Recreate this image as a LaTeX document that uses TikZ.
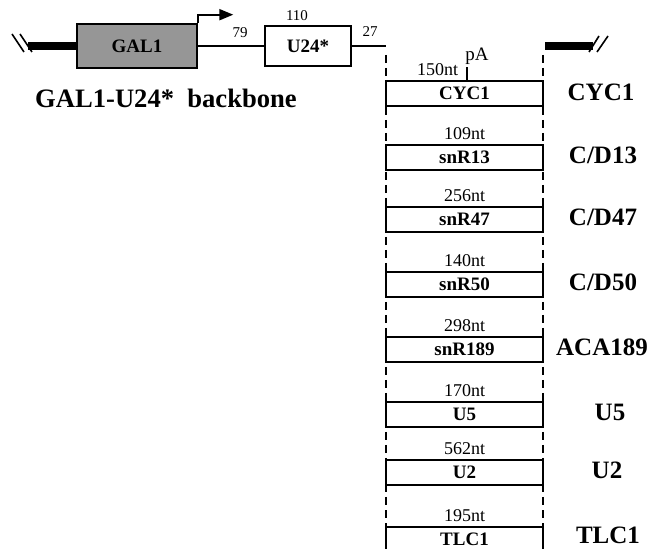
\documentclass[tikz,border=0pt]{standalone}
\usepackage{fontspec}
\setmainfont{Liberation Serif}
\usetikzlibrary{arrows.meta, positioning}
\definecolor{galgray}{RGB}{150,150,150}

\tikzset{
  genebox/.style={draw, line width=1.3pt, fill=white, minimum width=78.5pt, minimum height=12.5pt, inner sep=0pt, font=\fontsize{9.5}{11}\selectfont\bfseries},
  ntlabel/.style={inner sep=1pt, font=\fontsize{9}{10}\selectfont},
  sitelabel/.style={font=\fontsize{12.5}{14}\selectfont\bfseries},
  numlabel/.style={font=\fontsize{7.5}{9}\selectfont},
  dnabar/.style={line width=4pt},
  cut/.style={line width=0.8pt},
}

\begin{document}
\begin{tikzpicture}[x=0.5pt, y=-0.5pt]
  \useasboundingbox (0,0) rectangle (647,549);

  % backbone
  \node[draw, line width=1.3pt, fill=galgray, minimum width=60pt, minimum height=22pt, font=\fontsize{9.5}{11}\selectfont\bfseries] (gal) at (137,46) {GAL1};
  \node[draw, line width=1.3pt, minimum width=43pt, minimum height=20pt, font=\fontsize{9.5}{11}\selectfont\bfseries] (u24) at (308,46) {U24*};
  \coordinate (gap) at (386,46);
  \draw[line width=1pt] (gal) -- (u24);
  \draw[line width=1pt] (u24) -- (gap);
  \draw[line width=1pt, -{Triangle[length=7pt,width=5.5pt]}] (gal.north east) -- ++(0,-8) -- ++(35,0);
  \node[numlabel] (n79) at (240,33) {79};
  \node[numlabel] (n110) at (297,16) {110};
  \node[numlabel] (n27) at (370,32) {27};
  \node[font=\fontsize{13.3}{15}\selectfont\bfseries] (title) at (166,98) {GAL1-U24*\ \ backbone};

  % flanking ends
  \coordinate (lend) at (28,46);
  \draw[dnabar] (lend) -- (gal.west);
  \draw[cut] (12,34) -- (24,52) (20,34) -- (32,52);
  \coordinate (rstart) at (545,46);
  \coordinate (rend) at (593,46);
  \draw[dnabar] (rstart) -- (rend);
  \draw[cut] (589,52) -- (599,36) (597,52) -- (608,36);

  % insert slot
  \draw[line width=0.75pt, dash pattern=on 4pt off 2.5pt] (386,55) -- (386,549);
  \draw[line width=0.75pt, dash pattern=on 4pt off 2.5pt] (543,55) -- (543,549);

  % terminators
  \foreach \n/\y/\gname/\nt/\lab/\dx/\sx/\sy in {1/93.5/CYC1/150nt/CYC1/-27/601/92, 2/157.5/snR13/109nt/{C/D13}/0/603/155, 3/219.5/snR47/256nt/{C/D47}/0/603/217, 4/284.5/snR50/140nt/{C/D50}/0/603/282, 5/349.5/snR189/298nt/ACA189/0/602/347, 6/414.5/U5/170nt/U5/0/610/412, 7/472.5/U2/562nt/U2/0/607/470, 8/539.5/TLC1/195nt/TLC1/0/608/535}{
    \node[genebox] (box\n) at (464.5,\y) {\gname};
    \node[ntlabel, above=1pt of box\n, xshift=\dx*0.5pt] (nt\n) {\nt};
    \node[sitelabel] (site\n) at (\sx,\sy) {\lab};
  }

  % poly(A) site
  \coordinate (pAtick) at ([xshift=1.25pt]box1.north);
  \node[ntlabel, font=\fontsize{9.5}{11}\selectfont] (pA) at (477,56) {pA};
  \draw[line width=0.7pt] (pAtick) -- ++(0,-13);
\end{tikzpicture}
\end{document}
